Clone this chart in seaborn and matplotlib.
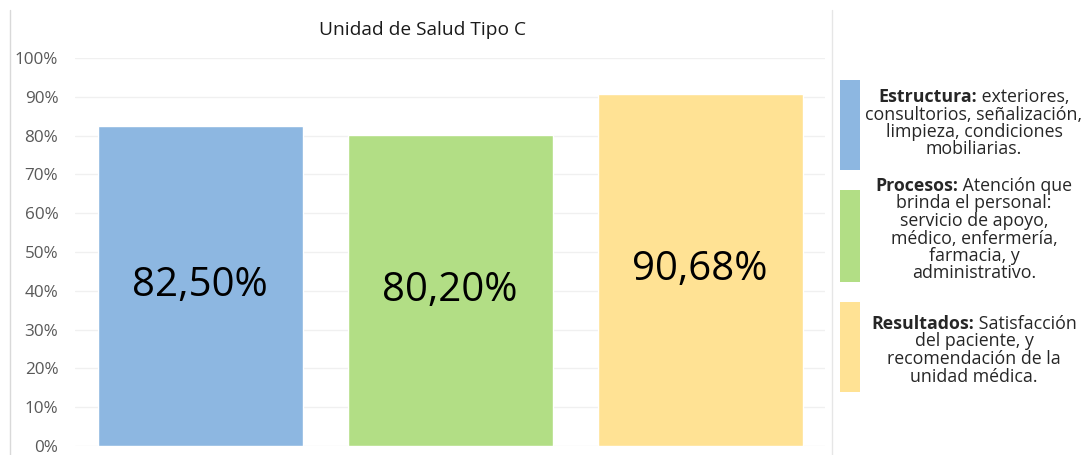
import numpy as np
import pandas as pd
import matplotlib
matplotlib.use("Agg")
import matplotlib.pyplot as plt
import seaborn as sns
from matplotlib.patches import Rectangle
from matplotlib.lines import Line2D

# datos
categorias = ["Estructura", "Procesos", "Resultados"]
valores = [82.50, 80.20, 90.68]
etiquetas = ["82,50%", "80,20%", "90,68%"]
colores = ["#8DB7E1", "#B2DE85", "#FFE294"]
negritas = ["Estructura:", "Procesos:", "Resultados:"]
descripciones = [
    [" exteriores,", "consultorios, señalización,", "limpieza, condiciones", "mobiliarias."],
    [" Atención que", "brinda el personal:", "servicio de apoyo,", "médico, enfermería,", "farmacia, y", "administrativo."],
    [" Satisfacción", "del paciente, y", "recomendación de la", "unidad médica."],
]
yticks = [0, 10, 20, 30, 40, 50, 60, 70, 80, 90, 100]
titulo = "Unidad de Salud Tipo C"

sns.set_theme(style="white")
plt.rcParams['font.family'] = ['Open Sans', 'DejaVu Sans']

df = pd.DataFrame({"cat": categorias, "val": valores})

W, H = 1083, 455
fig = plt.figure(figsize=(W / 100, H / 100), dpi=100)
ax = fig.add_axes([75 / W, 9 / H, 750 / W, 388 / H])

sns.barplot(data=df, x="cat", y="val", hue="cat", palette=colores,
            width=0.82, legend=False, ax=ax, saturation=1)

for i, (v, lab) in enumerate(zip(valores, etiquetas)):
    ax.text(i, v / 2, lab, ha="center", va="center", fontsize=29, color="black")

ax.set_ylim(0, 100)
ax.set_xlim(-0.5, 2.5)
ax.set_yticks(yticks)
ax.set_yticklabels([f"{t}%" for t in yticks], fontsize=12.3, color="#595959")
ax.set_xticks([])
ax.set_xlabel("")
ax.set_ylabel("")
ax.tick_params(axis="y", length=0, pad=12)
ax.grid(axis="y", color="#F0F0F0", linewidth=1)
ax.set_axisbelow(True)
for s in ax.spines.values():
    s.set_visible(False)

fig.text(0.39, 1 - 30 / H, titulo, ha="center", va="center", fontsize=13.8, color="#1a1a1a")

# marcos
fig.add_artist(Line2D([10 / W, 10 / W], [0, 1 - 10 / H], color="#D9D9D9", lw=1))
fig.add_artist(Line2D([832 / W, 832 / W], [0, 1 - 10 / H], color="#E6E6E6", lw=1))

# leyenda a la derecha
cajas = [(80, 170), (190, 282), (302, 392)]
primeras = [97, 186, 324]  # y (px) de la primera linea
cx = 974
fs = 12.8
paso = 17.5
renderer = fig.canvas.get_renderer()
for c, (y0, y1), yp, nb, lineas in zip(colores, cajas, primeras, negritas, descripciones):
    fig.add_artist(Rectangle((840 / W, 1 - y1 / H), 20 / W, (y1 - y0) / H,
                             transform=fig.transFigure, facecolor=c, edgecolor="none"))
    tb = fig.text(0, 1 - yp / H, nb, fontsize=fs, fontweight="bold", va="center", ha="left")
    tr = fig.text(0, 1 - yp / H, lineas[0], fontsize=fs, va="center", ha="left")
    wb = tb.get_window_extent(renderer).width
    wr = tr.get_window_extent(renderer).width
    x0 = cx - (wb + wr) / 2
    tb.set_x(x0 / W)
    tr.set_x((x0 + wb) / W)
    for k, l in enumerate(lineas[1:], start=1):
        fig.text(cx / W, 1 - (yp + k * paso) / H, l, fontsize=fs, va="center", ha="center")

fig.savefig("out.png", dpi=100)
